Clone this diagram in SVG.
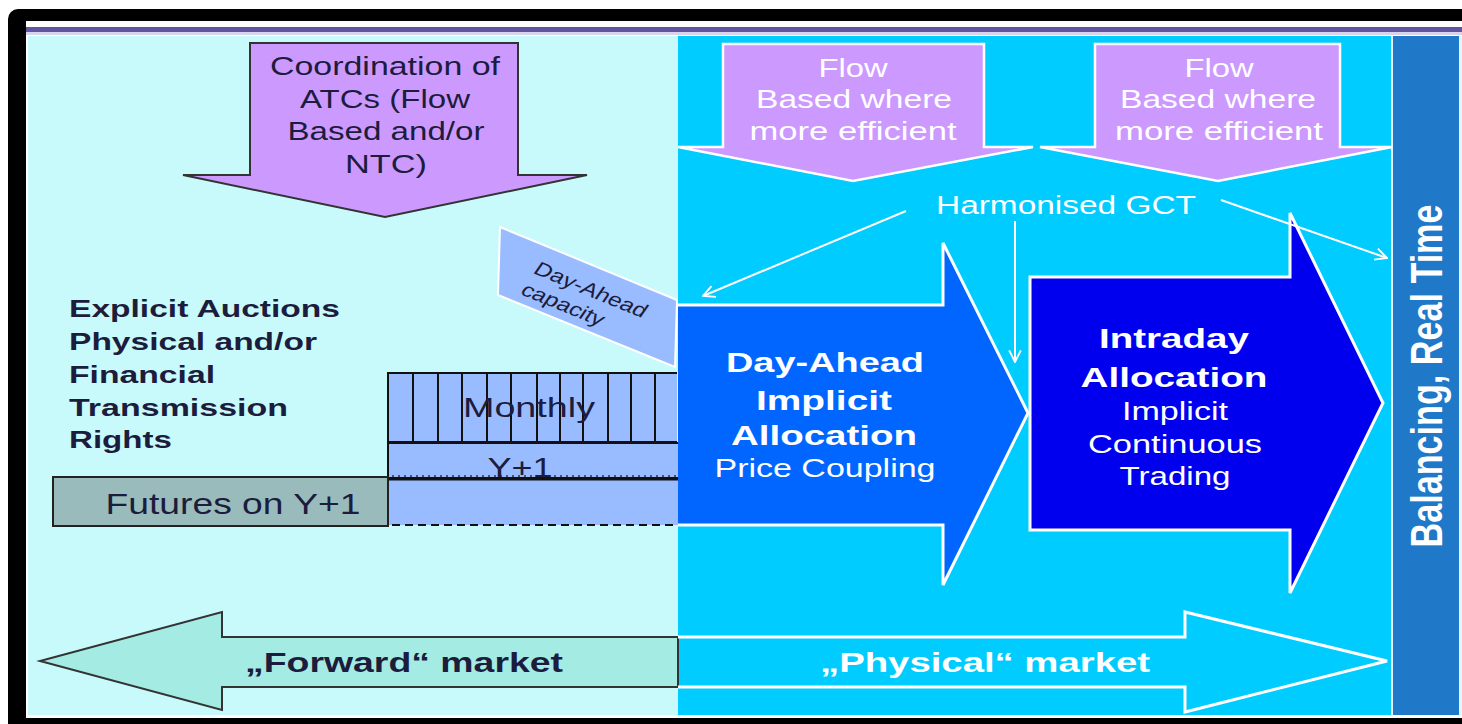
<svg xmlns="http://www.w3.org/2000/svg" width="1462" height="724" viewBox="0 0 1462 724">
<defs>
<style>
.t{font-family:"Liberation Sans",Arial,sans-serif}
.dk{fill:#1c1c3c}
.wh{fill:#ffffff}
.b{font-weight:bold}
.m{text-anchor:middle}
.wline{stroke:#ffffff;stroke-width:2;fill:none}
.blk{stroke:#111;stroke-width:2}
</style>
<marker id="ah" viewBox="0 0 12 12" refX="11" refY="6" markerWidth="14" markerHeight="14" markerUnits="userSpaceOnUse" orient="auto">
<path d="M1,1 L11,6 L1,11" fill="none" stroke="#fff" stroke-width="1.6"/>
</marker>
</defs>
<rect x="0" y="0" width="1462" height="724" fill="#fff"/>
<rect x="8" y="9" width="1480" height="740" rx="10" fill="#000"/>
<rect x="26" y="21" width="1436" height="697" fill="#fff"/>
<rect x="26" y="27" width="1436" height="5" fill="#5f55a0"/>
<rect x="26" y="32" width="1436" height="3" fill="#d8d4ee"/>

<g id="forward-panel"><rect x="28" y="36" width="650" height="679" fill="#c8fafc"/></g>
<g id="physical-panel"><rect x="678" y="36" width="714" height="679" fill="#00ccff"/></g>
<g id="balancing">
<rect x="1391" y="36" width="2" height="679" fill="#e8f4ff"/>
<rect x="1393" y="36" width="66" height="679" fill="#1f78c8"/>
<rect x="1459" y="36" width="3" height="679" fill="#e8f4ff"/>
<text class="t wh b m" font-size="34" transform="translate(1428,376) scale(1.3,1) rotate(-90)" y="11" textLength="343" lengthAdjust="spacingAndGlyphs">Balancing, Real Time</text>
</g>

<g id="coordination">
<path d="M250,43 L518,43 L518,175 L587,175 L385,217 L183,175 L250,175 Z" fill="#cc99ff" stroke="#333" stroke-width="2"/>
<text class="t dk m" font-size="26" x="385" y="75" textLength="230" lengthAdjust="spacingAndGlyphs">Coordination of</text>
<text class="t dk m" font-size="26" x="385" y="108" textLength="170" lengthAdjust="spacingAndGlyphs">ATCs (Flow</text>
<text class="t dk m" font-size="26" x="386" y="140" textLength="197" lengthAdjust="spacingAndGlyphs">Based and/or</text>
<text class="t dk m" font-size="26" x="386" y="173" textLength="82" lengthAdjust="spacingAndGlyphs">NTC)</text>
</g>

<g id="flow1">
<path d="M723,44 L984,44 L984,147 L1033,147 L853,181 L678,147 L723,147 Z" fill="#cc99ff" stroke="#fff" stroke-width="2.5"/>
<text class="t wh m" font-size="26" x="853" y="77" textLength="69" lengthAdjust="spacingAndGlyphs">Flow</text>
<text class="t wh m" font-size="26" x="854" y="108" textLength="196" lengthAdjust="spacingAndGlyphs">Based where</text>
<text class="t wh m" font-size="26" x="853" y="140" textLength="207" lengthAdjust="spacingAndGlyphs">more efficient</text>
</g>
<g id="flow2">
<path d="M1095,44 L1340,44 L1340,147 L1392,147 L1218,181 L1040,147 L1095,147 Z" fill="#cc99ff" stroke="#fff" stroke-width="2.5"/>
<text class="t wh m" font-size="26" x="1219" y="77" textLength="69" lengthAdjust="spacingAndGlyphs">Flow</text>
<text class="t wh m" font-size="26" x="1218" y="108" textLength="196" lengthAdjust="spacingAndGlyphs">Based where</text>
<text class="t wh m" font-size="26" x="1219" y="140" textLength="208" lengthAdjust="spacingAndGlyphs">more efficient</text>
</g>

<g id="gct">
<text class="t wh m" font-size="25" x="1066" y="214" textLength="260" lengthAdjust="spacingAndGlyphs">Harmonised GCT</text>
</g>

<g id="explicit">
<text class="t dk b" font-size="24" x="69" y="317" textLength="271" lengthAdjust="spacingAndGlyphs">Explicit Auctions</text>
<text class="t dk b" font-size="24" x="69" y="350" textLength="248" lengthAdjust="spacingAndGlyphs">Physical and/or</text>
<text class="t dk b" font-size="24" x="69" y="383" textLength="146" lengthAdjust="spacingAndGlyphs">Financial</text>
<text class="t dk b" font-size="24" x="69" y="416" textLength="219" lengthAdjust="spacingAndGlyphs">Transmission</text>
<text class="t dk b" font-size="24" x="69" y="448" textLength="103" lengthAdjust="spacingAndGlyphs">Rights</text>
</g>

<g id="da-capacity">
<polygon points="500,227 677,300 675,367 498,295" fill="#99bbff" stroke="#fff" stroke-width="2"/>
<g transform="translate(572,296) scale(1.3,1) rotate(28)">
<text class="t dk m" font-size="19" x="10" y="-6" textLength="96" lengthAdjust="spacingAndGlyphs">Day-Ahead</text>
<text class="t dk m" font-size="19" x="-2" y="17" textLength="70" lengthAdjust="spacingAndGlyphs">capacity</text>
</g>
</g>

<g id="monthly">
<rect x="388" y="373" width="289" height="69" fill="#99bbff"/>
<path d="M388,442 L388,373 L677,373 M388,442 L677,442" class="blk" fill="none"/>
<path d="M413,373V442M438,373V442M462,373V442M487,373V442M511,373V442M537,373V442M560,373V442M583,373V442M608,373V442M631,373V442M655,373V442" class="blk" fill="none"/>
<text class="t dk m" font-size="27" x="529" y="417" textLength="132" lengthAdjust="spacingAndGlyphs">Monthly</text>
</g>

<g id="y1">
<rect x="388" y="443" width="292" height="35" fill="#99bbff" class="blk"/>
<line x1="392" y1="476" x2="676" y2="476" stroke="#333" stroke-width="1.5" stroke-dasharray="2,4"/>
<text class="t dk m" font-size="27" x="520" y="477" textLength="65" lengthAdjust="spacingAndGlyphs">Y+1</text>
</g>

<g id="futures-y1">
<rect x="388" y="480" width="292" height="45" fill="#99bbff"/>
<line x1="388" y1="479" x2="680" y2="479" stroke="#111" stroke-width="3"/>
<line x1="388" y1="480" x2="388" y2="525" class="blk"/>
<path d="M680,480 V525 H388" fill="none" stroke="#111" stroke-width="2" stroke-dasharray="8,5"/>
</g>

<g id="futures">
<rect x="53" y="477" width="335" height="49" fill="#99bbbb" stroke="#222" stroke-width="2"/>
<text class="t dk m" font-size="30" x="233" y="514" textLength="255" lengthAdjust="spacingAndGlyphs">Futures on Y+1</text>
</g>

<g id="day-ahead">
<path d="M678,305 L943,305 L943,243 L1028,413 L943,585 L943,525 L678,525" fill="#0066ff" stroke="#fff" stroke-width="3"/>
<text class="t wh b m" font-size="28" x="825" y="372" textLength="198" lengthAdjust="spacingAndGlyphs">Day-Ahead</text>
<text class="t wh b m" font-size="28" x="824" y="410" textLength="136" lengthAdjust="spacingAndGlyphs">Implicit</text>
<text class="t wh b m" font-size="28" x="824" y="445" textLength="186" lengthAdjust="spacingAndGlyphs">Allocation</text>
<text class="t wh m" font-size="25" x="825" y="477" textLength="221" lengthAdjust="spacingAndGlyphs">Price Coupling</text>
</g>

<g id="intraday">
<path d="M1030,277 L1290,277 L1290,213 L1383,403 L1290,593 L1290,530 L1030,530 Z" fill="#0000ee" stroke="#fff" stroke-width="3"/>
<text class="t wh b m" font-size="28" x="1174" y="348" textLength="150" lengthAdjust="spacingAndGlyphs">Intraday</text>
<text class="t wh b m" font-size="28" x="1174" y="387" textLength="187" lengthAdjust="spacingAndGlyphs">Allocation</text>
<text class="t wh m" font-size="25" x="1175" y="420" textLength="106" lengthAdjust="spacingAndGlyphs">Implicit</text>
<text class="t wh m" font-size="25" x="1175" y="453" textLength="174" lengthAdjust="spacingAndGlyphs">Continuous</text>
<text class="t wh m" font-size="25" x="1175" y="485" textLength="111" lengthAdjust="spacingAndGlyphs">Trading</text>
</g>

<g id="forward-market">
<path d="M678,637 L222,637 L222,612 L40,661 L222,710 L222,687 L678,687 Z" fill="#a3ebe3" stroke="#333" stroke-width="2"/>
<text class="t dk b m" font-size="28" x="404" y="672" textLength="318" lengthAdjust="spacingAndGlyphs">„Forward“ market</text>
</g>

<g id="physical-market">
<path d="M678,637 L1185,637 L1185,612 L1387,661 L1185,712 L1185,687 L678,687" fill="none" stroke="#fff" stroke-width="3"/>
<text class="t wh b m" font-size="28" x="985" y="672" textLength="330" lengthAdjust="spacingAndGlyphs">„Physical“ market</text>
</g>

<g id="connectors">
<line x1="906" y1="211" x2="703" y2="296" class="wline" marker-end="url(#ah)"/>
<line x1="1015" y1="221" x2="1015" y2="362" class="wline" marker-end="url(#ah)"/>
<line x1="1221" y1="200" x2="1387" y2="258" class="wline" marker-end="url(#ah)"/>
</g>
</svg>
